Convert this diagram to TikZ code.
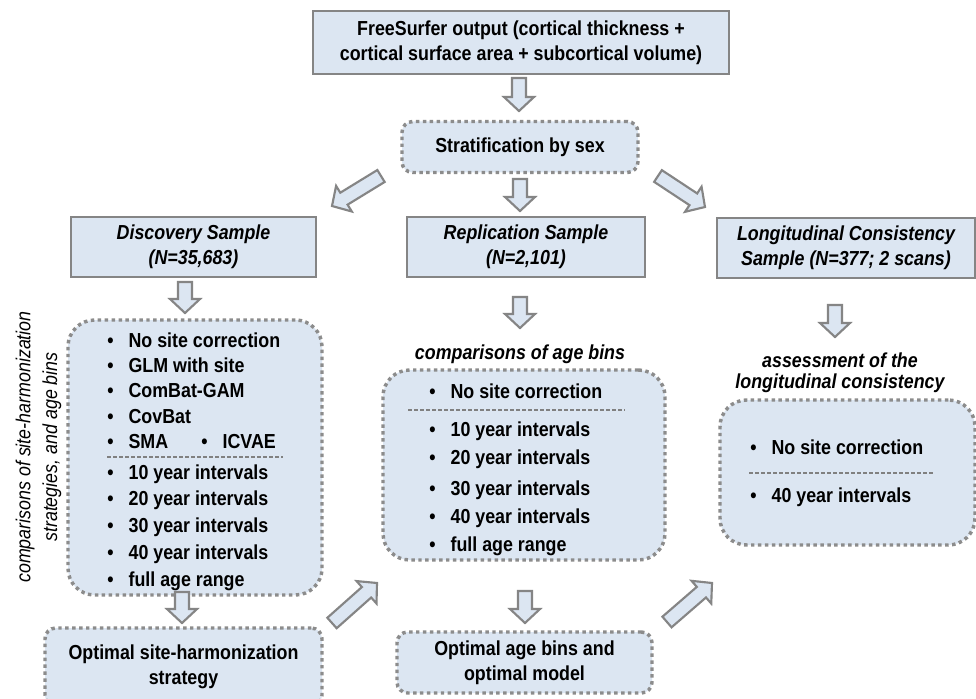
\documentclass[tikz,border=0pt]{standalone}
\usepackage{fontspec}
\setmainfont{Liberation Sans}[FakeStretch=0.88]
\usetikzlibrary{calc}
\definecolor{boxfill}{HTML}{DCE6F2}
\definecolor{boxline}{HTML}{858585}
\definecolor{dotline}{HTML}{8C8C8C}
\def\bsw{5.25pt}
\def\bhw{11.25pt}
\def\bhl{10.5pt}
\newcommand\blockarrow[2]{%
  \path ($(#2)!\bhl!(#1)$) coordinate (bneck);
  \draw[bigarrow] ($(#1)!\bsw!90:(#2)$) -- ($(bneck)!\bsw!90:(#2)$) -- ($(bneck)!\bhw!90:(#2)$) -- (#2)
    -- ($(bneck)!\bhw!-90:(#2)$) -- ($(bneck)!\bsw!-90:(#2)$) -- ($(#1)!\bsw!-90:(#2)$) -- cycle;}
\newcommand\bul{\makebox[16pt][l]{\textbullet}}
\begin{document}
\begin{tikzpicture}[x=0.75pt,y=-0.75pt,
  every node/.style={font=\fontsize{15.2}{18.5}\selectfont\bfseries, text=black},
  itb/.style={font=\fontsize{15.2}{18.5}\selectfont\bfseries\itshape},
  solidbox/.style={draw=boxline, line width=2pt, fill=boxfill, align=center, inner sep=0pt},
  dotbox/.style={draw=dotline, line width=2.6pt, dash pattern=on 2.6pt off 2.6pt, fill=boxfill, align=center, inner sep=0pt},
  bigarrow/.style={draw=boxline, line width=1.6pt, fill=boxfill, line join=miter},
  sep/.style={draw=gray, line width=0.8pt, dash pattern=on 3pt off 1.5pt},
  item/.style={anchor=base west, inner sep=0pt},
]
\clip (0,0) rectangle (976,699);
\fill[white] (0,0) rectangle (976,699);

% boxes
\node[solidbox, minimum width=312pt, minimum height=47.25pt] (fs) at (521,42.5)
  {FreeSurfer output (cortical thickness +\\cortical surface area + subcortical volume)};
\node[dotbox, rounded corners=8pt, minimum width=177pt, minimum height=38.25pt] (strat) at (520,147)
  {Stratification by sex};
\node[solidbox, itb, minimum width=183.75pt, minimum height=45pt] (disc) at (193.5,247)
  {Discovery Sample\\(N=35,683)};
\node[solidbox, itb, minimum width=178.5pt, minimum height=45pt] (rep) at (526,247)
  {Replication Sample\\(N=2,101)};
\node[solidbox, itb, minimum width=193.5pt, minimum height=45pt] (long) at (846,248)
  {Longitudinal Consistency\\Sample (N=377; 2 scans)};

\node[dotbox, rounded corners=20pt, minimum width=190.5pt, minimum height=206.25pt] (dlist) at (195,457.5) {};
\node[dotbox, rounded corners=20pt, minimum width=211.5pt, minimum height=142.5pt] (rlist) at (524,465) {};
\node[dotbox, rounded corners=20pt, minimum width=191.25pt, minimum height=108.75pt] (llist) at (847.5,472.5) {};
\node[dotbox, rounded corners=8pt, minimum width=207.75pt, minimum height=58.5pt] (osite) at (183.5,667)
  {Optimal site-harmonization\\strategy};
\node[dotbox, rounded corners=8pt, minimum width=191.25pt, minimum height=45.75pt] (oage) at (524.5,662.5)
  {Optimal age bins and\\optimal model};

% side and header labels
\node[rotate=90, align=center, font=\fontsize{15.2}{20}\selectfont\itshape] (side) at (38.5,447)
  {comparisons of site-harmonization\\strategies, and age bins};
\node[itb] (rhead) at (520,354) {comparisons of age bins};
\node[align=center, font=\fontsize{15.2}{15.75}\selectfont\bfseries\itshape] (lhead) at (840,373)
  {assessment of the\\longitudinal consistency};

% discovery list
\node[item] (d1) at (107,347) {\bul No site correction};
\node[item] (d2) at (107,372) {\bul GLM with site};
\node[item] (d3) at (107,397) {\bul ComBat-GAM};
\node[item] (d4) at (107,423) {\bul CovBat};
\node[item] (d5) at (107,448) {\bul SMA};
\node[item] (d6) at (201,448) {\bul ICVAE};
\draw[sep] (107,457) -- (283,457);
\node[item] (d7) at (107,479) {\bul 10 year intervals};
\node[item] (d8) at (107,505) {\bul 20 year intervals};
\node[item] (d9) at (107,532) {\bul 30 year intervals};
\node[item] (d10) at (107,559) {\bul 40 year intervals};
\node[item] (d11) at (107,586) {\bul full age range};

% replication list
\node[item] (r1) at (429,398) {\bul No site correction};
\draw[sep] (408,410) -- (625,410);
\node[item] (r2) at (429,436) {\bul 10 year intervals};
\node[item] (r3) at (429,464) {\bul 20 year intervals};
\node[item] (r4) at (429,495) {\bul 30 year intervals};
\node[item] (r5) at (429,523) {\bul 40 year intervals};
\node[item] (r6) at (429,551) {\bul full age range};

% longitudinal list
\node[item] (l1) at (750,454) {\bul No site correction};
\draw[sep] (749,473) -- (933,473);
\node[item] (l2) at (750,502) {\bul 40 year intervals};

% block arrows
\coordinate (a1s) at (519,78);  \coordinate (a1e) at (519,111);
\coordinate (a2s) at (381,176); \coordinate (a2e) at (332,206);
\coordinate (a3s) at (520,179); \coordinate (a3e) at (520,211);
\coordinate (a4s) at (658,176); \coordinate (a4e) at (705,207);
\coordinate (a5s) at (185,282); \coordinate (a5e) at (185,313);
\coordinate (a6s) at (520,297); \coordinate (a6e) at (520,328);
\coordinate (a7s) at (835,305); \coordinate (a7e) at (835,337);
\coordinate (a8s) at (182,592); \coordinate (a8e) at (182,623);
\coordinate (a9s) at (332,623); \coordinate (a9e) at (377,583);
\coordinate (a10s) at (525,591); \coordinate (a10e) at (525,623);
\coordinate (a11s) at (667,622); \coordinate (a11e) at (712,583);
\blockarrow{a1s}{a1e}
\blockarrow{a2s}{a2e}
\blockarrow{a3s}{a3e}
\blockarrow{a4s}{a4e}
\blockarrow{a5s}{a5e}
\blockarrow{a6s}{a6e}
\blockarrow{a7s}{a7e}
\blockarrow{a8s}{a8e}
\blockarrow{a9s}{a9e}
\blockarrow{a10s}{a10e}
\blockarrow{a11s}{a11e}
\end{tikzpicture}
\end{document}
